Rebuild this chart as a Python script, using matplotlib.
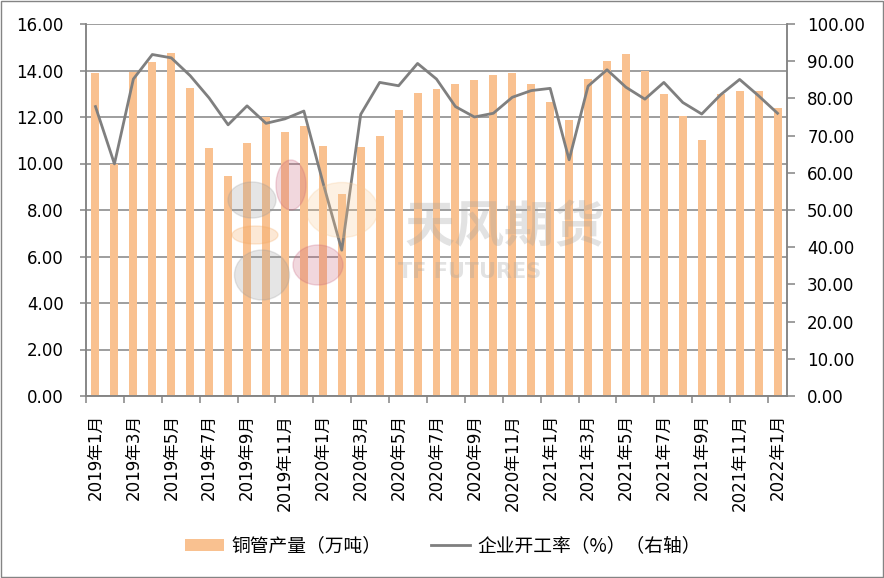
import numpy as np
import matplotlib.pyplot as plt
from matplotlib.patches import Ellipse, Rectangle

plt.rcParams['font.family'] = ['DejaVu Sans', 'Noto Sans CJK SC']

# monthly data 2019-01 .. 2022-01
months = [f'{y}年{m}月' for y in (2019, 2020, 2021) for m in range(1, 13)] + ['2022年1月']
output = [13.9, 10.0, 13.95, 14.35, 14.75, 13.25, 10.65, 9.45, 10.9, 12.0, 11.35, 11.6,
          10.75, 8.7, 10.7, 11.2, 12.3, 13.05, 13.2, 13.4, 13.6, 13.8, 13.9, 13.4,
          12.65, 11.85, 13.65, 14.4, 14.7, 14.0, 13.0, 12.05, 11.0, 13.0, 13.1, 13.1,
          12.4]
rate = [77.8, 62.4, 85.2, 91.8, 90.9, 86.1, 80.1, 72.9, 78.0, 73.3, 74.5, 76.6,
        57.5, 39.2, 75.7, 84.3, 83.4, 89.4, 85.2, 77.8, 75.0, 76.0, 80.3, 82.1,
        82.7, 63.5, 83.3, 87.7, 83.0, 79.8, 84.3, 78.9, 75.8, 81.0, 85.1, 80.7,
        76.0]

grey = '#848484'
x = np.arange(len(months))

fig = plt.figure(figsize=(8.84, 5.78), dpi=100)
ax = fig.add_axes([86/884, 1-396/578, 701/884, 372/578])
ax2 = ax.twinx()

bars = ax.bar(x, output, width=0.42, color='#F9C190', zorder=2, label='铜管产量（万吨）')
ln, = ax2.plot(x, rate, color='#7F7F7F', lw=2.0, label='企业开工率（%）（右轴）')

ax.set_xlim(-0.5, len(months) - 0.5)
ax.set_ylim(0, 16)
ax.set_yticks(np.arange(0, 16.1, 2))
ax.set_yticklabels([f'{v:.2f}' for v in np.arange(0, 16.1, 2)], fontsize=12)
ax2.set_ylim(0, 100)
ax2.set_yticks(np.arange(0, 101, 10))
ax2.set_yticklabels([f'{v:.2f}' for v in np.arange(0, 101, 10)], fontsize=12)

ax.set_xticks(np.arange(-0.5, len(months) - 1, 2))
ax.set_xticklabels([])
ax.set_xticks(x[::2], minor=True)
ax.set_xticklabels(months[::2], minor=True, rotation=90, fontsize=12)
ax.tick_params(axis='x', which='minor', length=0, pad=13)
ax.tick_params(axis='x', which='major', length=5, color=grey, width=1.1)
ax.tick_params(axis='y', length=4, color=grey, width=1.1, pad=12)
ax2.tick_params(axis='y', length=5.5, color=grey, width=1.1, pad=9)

ax.grid(axis='y', color=grey, lw=1.1, zorder=0)
ax.set_axisbelow(True)
for a in (ax, ax2):
    a.spines['top'].set_visible(False)
    for side in ('left', 'right', 'bottom'):
        a.spines[side].set_color(grey)
        a.spines[side].set_linewidth(1.1)

# watermark
blobs = [((252, 200), 48, 36, '#9a9a9a'), ((255, 235), 46, 18, '#f4a55a'),
         ((262, 275), 55, 50, '#9a9a9a'), ((291, 185), 30, 50, '#c8607a'),
         ((342, 210), 72, 55, '#f8c890'), ((318, 265), 50, 40, '#c8607a')]
for (cx, cy), w, h, c in blobs:
    fig.patches.append(Ellipse((cx/884, 1-cy/578), w/884, h/578, color=c, alpha=0.25,
                               transform=fig.transFigure, zorder=5))
fig.text(505/884, 1-228/578, '天风期货', fontsize=36, color='#a0a0a0', alpha=0.3,
         ha='center', va='center', fontweight='bold', family='Noto Sans CJK SC')
fig.text(470/884, 1-272/578, 'TF FUTURES', fontsize=15, color='#a0a0a0', alpha=0.3,
         ha='center', va='center', fontweight='bold')

fig.legend(handles=[bars, ln], loc='center', bbox_to_anchor=(443/884, 1-546/578),
           ncol=2, frameon=False, prop={'family': 'Noto Sans CJK SC', 'size': 13.5},
           handlelength=2.1, handleheight=0.55, handletextpad=0.4, columnspacing=2.6)

fig.patches.append(Rectangle((0.001, 0.001), 0.998, 0.997, fill=False, ec=grey, lw=1,
                             transform=fig.transFigure))

fig.savefig('out.png', dpi=100)
